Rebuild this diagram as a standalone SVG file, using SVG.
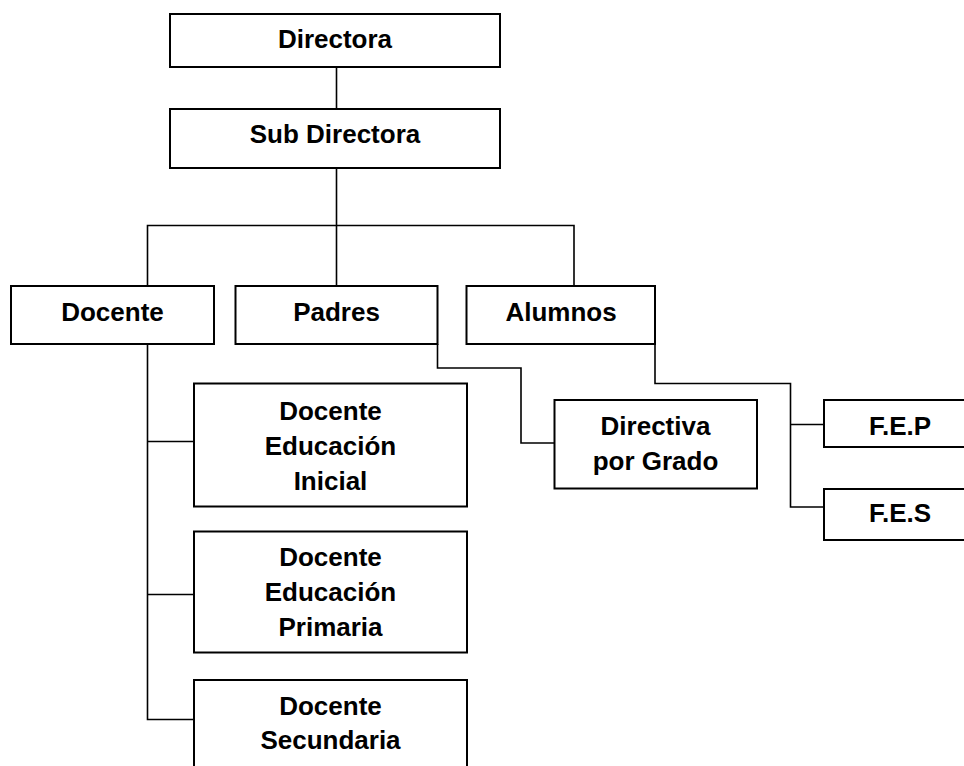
<svg xmlns="http://www.w3.org/2000/svg" width="964" height="766" viewBox="0 0 964 766">
<style>
.box{fill:#fff;stroke:#000;stroke-width:2}
.lbl{font-family:"Liberation Sans",Arial,sans-serif;font-weight:bold;font-size:26px;fill:#000;text-anchor:middle}
.con{fill:none;stroke:#000;stroke-width:1.6}
</style>
<rect width="964" height="766" fill="#fff"/>
<g id="connectors">
<path class="con" d="M336.5,67 V109"/>
<path class="con" d="M336.5,168 V225.5 M147.5,286 V225.5 H574 V286 M336.5,225.5 V286"/>
<path class="con" d="M147.5,344 V719.5 H194 M147.5,441.5 H194 M147.5,594.5 H194"/>
<path class="con" d="M437.5,344 V368 H521 V443 H554.5"/>
<path class="con" d="M655,344 V383.5 H790.5 V507 H824 M790.5,424.5 H824"/>
</g>
<g id="directora"><rect class="box" x="170" y="14" width="330" height="53"/><text class="lbl" x="335" y="48">Directora</text></g>
<g id="subdirectora"><rect class="box" x="170" y="109" width="330" height="59"/><text class="lbl" x="335" y="143">Sub Directora</text></g>
<g id="docente"><rect class="box" x="11" y="286" width="203" height="58"/><text class="lbl" x="112.5" y="321">Docente</text></g>
<g id="padres"><rect class="box" x="235.5" y="286" width="202" height="58"/><text class="lbl" x="336.5" y="321">Padres</text></g>
<g id="alumnos"><rect class="box" x="466.5" y="286" width="188.5" height="58"/><text class="lbl" x="561" y="321">Alumnos</text></g>
<g id="directiva"><rect class="box" x="554.5" y="400" width="202.5" height="88.5"/><text class="lbl" x="655.5" y="434.5">Directiva</text><text class="lbl" x="655.5" y="469.5">por Grado</text></g>
<g id="fep"><rect class="box" x="824" y="400" width="152" height="47"/><text class="lbl" x="900" y="434.5">F.E.P</text></g>
<g id="fes"><rect class="box" x="824" y="489" width="152" height="51"/><text class="lbl" x="900" y="521.5">F.E.S</text></g>
<g id="inicial"><rect class="box" x="194" y="383.5" width="273" height="123"/><text class="lbl" x="330.5" y="419.5">Docente</text><text class="lbl" x="330.5" y="454.5">Educación</text><text class="lbl" x="330.5" y="489.5">Inicial</text></g>
<g id="primaria"><rect class="box" x="194" y="531.5" width="273" height="121"/><text class="lbl" x="330.5" y="566">Docente</text><text class="lbl" x="330.5" y="601">Educación</text><text class="lbl" x="330.5" y="636">Primaria</text></g>
<g id="secundaria"><rect class="box" x="194" y="680" width="273" height="100"/><text class="lbl" x="330.5" y="714.5">Docente</text><text class="lbl" x="330.5" y="748.5">Secundaria</text></g>
</svg>
